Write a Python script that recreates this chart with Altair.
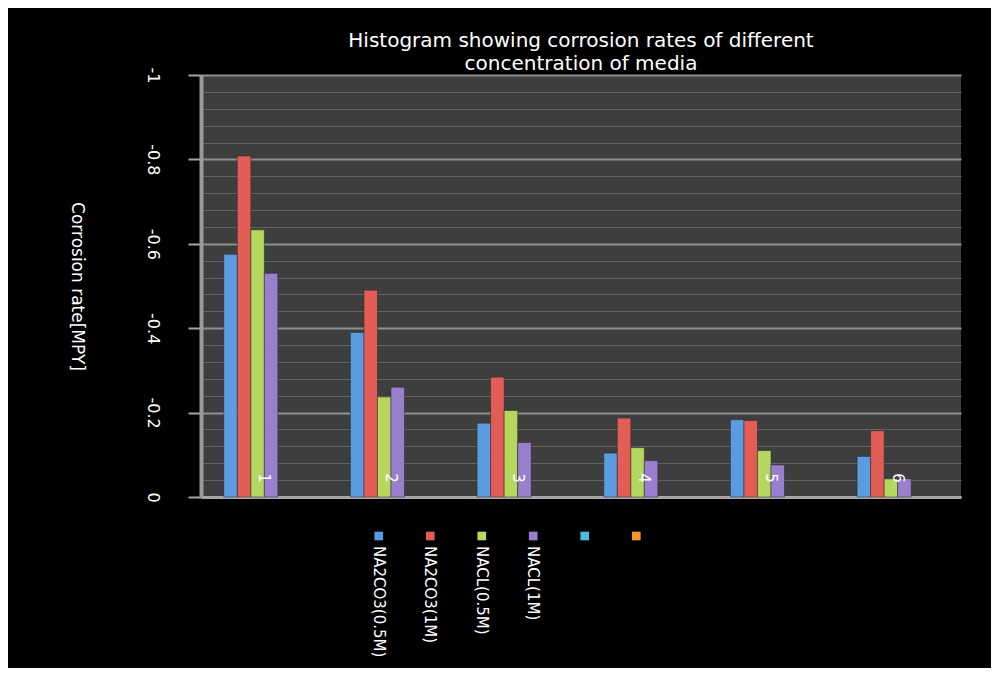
import altair as alt
import pandas as pd

groups = ["1", "2", "3", "4", "5", "6"]
series_keys = ["s1", "s2", "s3", "s4", "s5", "s6"]
series_labels = ["NA2CO3(0.5M)", "NA2CO3(1M)", "NACL(0.5M)", "NACL(1M)", "", ""]
series_colors = ["#5b9be0", "#e35d57", "#b5d65f", "#9a7fcf", "#4bbcd8", "#f5962f"]

na2co3_05 = [-0.575, -0.390, -0.175, -0.104, -0.183, -0.096]
na2co3_1 = [-0.808, -0.490, -0.284, -0.187, -0.181, -0.157]
nacl_05 = [-0.633, -0.237, -0.205, -0.117, -0.110, -0.043]
nacl_1 = [-0.530, -0.260, -0.129, -0.086, -0.076, -0.043]

y_ticks = [round(-1 + 0.04 * i, 2) for i in range(26)]
group_label_pos = -0.045

rows = []
for i, g in enumerate(groups):
    for key, vals in zip(series_keys[:4], [na2co3_05, na2co3_1, nacl_05, nacl_1]):
        rows.append({"group": g, "series": key, "rate": vals[i]})
df = pd.DataFrame(rows)
lab_df = pd.DataFrame({"group": groups, "pos": [group_label_pos] * len(groups)})
leg_df = pd.DataFrame({"series": series_keys, "label": series_labels})

FONT = "DejaVu Sans"
major = "abs(datum.value*5 - round(datum.value*5)) < 0.001"
xscale = alt.Scale(domain=groups, paddingInner=0.36, paddingOuter=0.18)
yscale = alt.Scale(domain=[-1, 0], reverse=True, nice=False)
color_scale = alt.Scale(domain=series_keys, range=series_colors)

yaxis = alt.Axis(
    values=y_ticks, tickCount=40,
    labelExpr=f"({major}) ? (abs(datum.value) < 0.001 ? '0' : '-' + format(abs(datum.value), '~g')) : ''",
    labelAngle=90, labelAlign="center", labelBaseline="top", labelPadding=28,
    labelColor="white", labelFontSize=16, labelFont=FONT,
    labelFlush=False, labelOverlap=False,
    tickSize=13, tickWidth=2,
    tickColor={"condition": {"test": major, "value": "#a6a6a6"}, "value": "transparent"},
    grid=True,
    gridColor={"condition": {"test": major, "value": "#8f8f8f"}, "value": "#626262"},
    gridWidth={"condition": {"test": major, "value": 2}, "value": 1},
    domainColor="#9a9a9a", domainWidth=4,
    title="Corrosion rate[MPY]", titleAngle=90, titleColor="white", titleFontSize=17,
    titleFont=FONT, titleFontWeight="normal",
    titleX=-125, titleY=211, titleAlign="center", titleBaseline="middle",
)

bars = alt.Chart(df).mark_bar(stroke="#2a2a2a", strokeWidth=0.5).encode(
    x=alt.X("group:N", scale=xscale,
            axis=alt.Axis(labels=False, ticks=False, title=None, grid=False,
                          domainColor="#a6a6a6", domainWidth=3)),
    xOffset=alt.XOffset("series:N", scale=alt.Scale(domain=series_keys)),
    y=alt.Y("rate:Q", scale=yscale, axis=yaxis),
    color=alt.Color("series:N", scale=color_scale, legend=None),
)

glabels = alt.Chart(lab_df).mark_text(
    angle=90, color="white", fontSize=15, font=FONT,
    align="center", baseline="middle",
).encode(
    x=alt.X("group:N", scale=xscale),
    y=alt.Y("pos:Q", scale=yscale),
    text="group:N",
)

top = alt.layer(bars, glabels).properties(
    width=760, height=422,
    view=alt.ViewBackground(fill="#3e3e3e", stroke=None),
    title=alt.Title(
        ["Histogram showing corrosion rates of different", "concentration of media"],
        color="white", fontSize=20, font=FONT, fontWeight="normal",
        anchor="middle", frame="group", lineHeight=23, offset=5, dy=12,
    ),
)

lx = alt.X("series:N", scale=alt.Scale(domain=series_keys, range=[152, 461]), axis=None)
sq = alt.Chart(leg_df).mark_square(size=75, opacity=1).encode(
    x=lx, y=alt.value(23),
    color=alt.Color("series:N", scale=color_scale, legend=None),
)
tx = alt.Chart(leg_df).mark_text(
    angle=90, align="left", baseline="middle", color="white",
    fontSize=15, font=FONT,
).encode(x=lx, y=alt.value(33), text="label:N")
legend_chart = alt.layer(sq, tx).properties(
    width=760, height=140, view=alt.ViewBackground(stroke=None),
)

chart = alt.vconcat(top, legend_chart, spacing=10).properties(
    background="black",
    padding={"left": 60, "top": 23, "right": 30, "bottom": 10},
).configure_view(stroke=None)

chart.save("out.html", embed_options={"renderer": "svg", "actions": False})
